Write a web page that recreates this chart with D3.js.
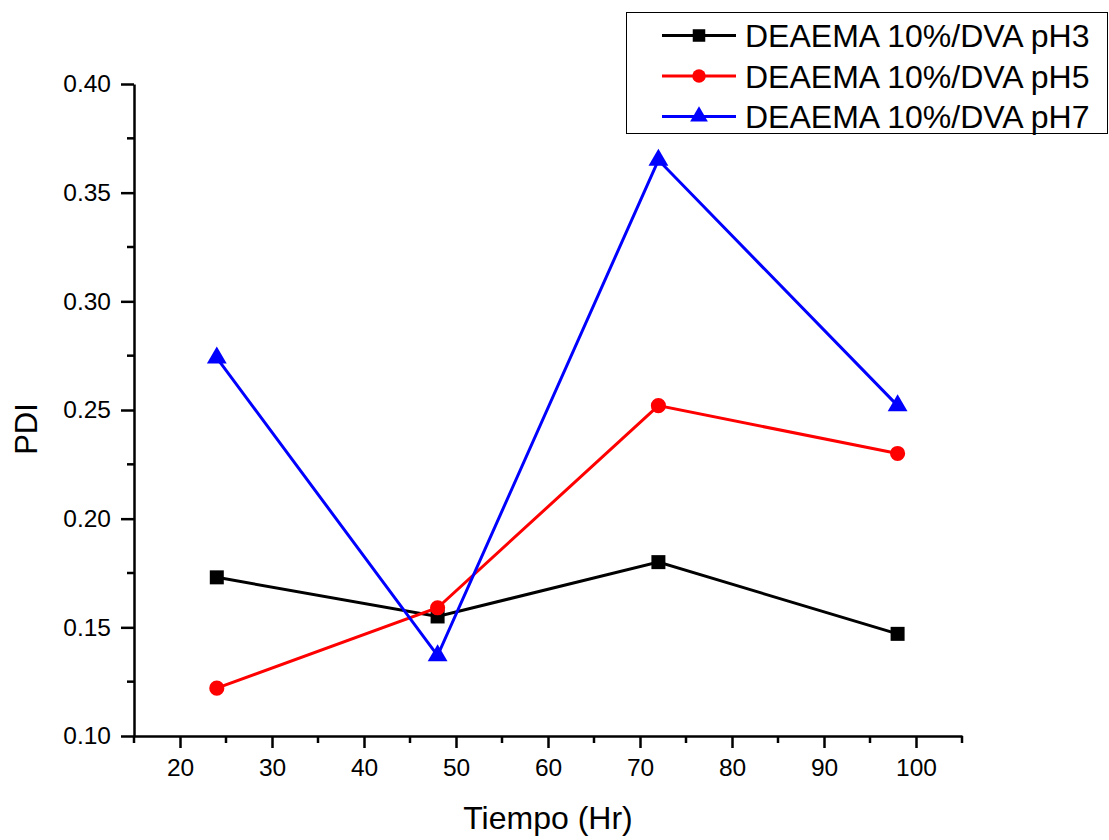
<!DOCTYPE html>
<html>
<head>
<meta charset="utf-8">
<script src="https://cdn.jsdelivr.net/npm/d3@7"></script>
<style>
  body { margin: 0; background: #fff; }
</style>
</head>
<body>
<div id="chart-area"></div>
<script>
// data
const hours = [24, 48, 72, 98];
const pdiPH3 = [0.173, 0.155, 0.180, 0.147];
const pdiPH5 = [0.122, 0.159, 0.252, 0.230];
const pdiPH7 = [0.274, 0.137, 0.365, 0.252];
const seriesNames = ["DEAEMA 10%/DVA pH3", "DEAEMA 10%/DVA pH5", "DEAEMA 10%/DVA pH7"];
const xTicks = [20, 30, 40, 50, 60, 70, 80, 90, 100];
const yTicks = [0.10, 0.15, 0.20, 0.25, 0.30, 0.35, 0.40];

const svgWidth = 1109, svgHeight = 840;
const margins = {top: 84, bottom: 104, left: 134, right: 147};
const font = "'Liberation Sans', Arial, sans-serif";

const canvas = d3.select("#chart-area")
  .append("svg")
    .attr("width", svgWidth)
    .attr("height", svgHeight);

const x = d3.scaleLinear()
  .domain([15, 105])
  .range([margins.left, svgWidth - margins.right]);
const y = d3.scaleLinear()
  .domain([0.10, 0.40])
  .range([svgHeight - margins.bottom, margins.top]);

// x axis
const xAxis = canvas.append("g")
  .attr("transform", `translate(0,${y(0.10)})`)
  .call(d3.axisBottom(x).tickValues(xTicks).tickFormat(d3.format("d")).tickSize(12).tickSizeOuter(0).tickPadding(11));
xAxis.append("g")
  .selectAll("line")
  .data(d3.range(15, 106, 10))
  .join("line")
    .attr("x1", d => x(d)).attr("x2", d => x(d))
    .attr("y1", 0).attr("y2", 7)
    .attr("stroke", "#000");

// y axis
const yAxis = canvas.append("g")
  .attr("transform", `translate(${x(15)},0)`)
  .call(d3.axisLeft(y).tickValues(yTicks).tickFormat(d3.format(".2f")).tickSize(13).tickSizeOuter(0).tickPadding(10));
yAxis.append("g")
  .selectAll("line")
  .data(d3.range(0.125, 0.4, 0.05))
  .join("line")
    .attr("x1", 0).attr("x2", -7)
    .attr("y1", d => y(d)).attr("y2", d => y(d))
    .attr("stroke", "#000");

[xAxis, yAxis].forEach(ax => {
  ax.select(".domain").attr("stroke-width", 2.5);
  ax.selectAll("line").attr("stroke-width", 2.5);
  ax.selectAll("text")
    .attr("font-family", font)
    .attr("font-size", 24.5)
    .attr("fill", "#000");
});

// axis titles
canvas.append("text")
  .text("Tiempo (Hr)")
  .attr("x", x(60))
  .attr("y", 829)
  .attr("text-anchor", "middle")
  .attr("font-family", font)
  .attr("font-size", 32);
canvas.append("text")
  .text("PDI")
  .attr("transform", `translate(37,429) rotate(-90)`)
  .attr("text-anchor", "middle")
  .attr("font-family", font)
  .attr("font-size", 31);

const series = [
  {name: seriesNames[0], values: pdiPH3, color: "#000000", shape: d3.symbolSquare, size: 196},
  {name: seriesNames[1], values: pdiPH5, color: "#ff0000", shape: d3.symbolCircle, size: 180},
  {name: seriesNames[2], values: pdiPH7, color: "#0000ff", shape: d3.symbolTriangle, size: 170}
];

const line = d3.line()
  .x(d => x(d[0]))
  .y(d => y(d[1]));

series.forEach(s => {
  const pts = hours.map((h, i) => [h, s.values[i]]);
  canvas.append("path")
    .datum(pts)
    .attr("fill", "none")
    .attr("stroke", s.color)
    .attr("stroke-width", 3)
    .attr("d", line);
  canvas.append("g")
    .selectAll("path")
    .data(pts)
    .join("path")
      .attr("d", d3.symbol(s.shape, s.size))
      .attr("transform", d => `translate(${x(d[0])},${y(d[1])})`)
      .attr("fill", s.color);
});

// legend
const legend = canvas.append("g");
legend.append("rect")
  .attr("x", 626.5)
  .attr("y", 12.5)
  .attr("width", 481)
  .attr("height", 121)
  .attr("fill", "#fff")
  .attr("stroke", "#000")
  .attr("stroke-width", 1);
series.forEach((s, i) => {
  const ly = 35.5 + i * 40.5;
  legend.append("line")
    .attr("x1", 662).attr("x2", 736)
    .attr("y1", ly).attr("y2", ly)
    .attr("stroke", s.color)
    .attr("stroke-width", 3);
  legend.append("path")
    .attr("d", d3.symbol(s.shape, s.size * 0.8))
    .attr("transform", `translate(699,${ly})`)
    .attr("fill", s.color);
  legend.append("text")
    .text(s.name)
    .attr("x", 745)
    .attr("y", ly + 11.5)
    .attr("font-family", font)
    .attr("font-size", 32);
});
</script>
</body>
</html>
